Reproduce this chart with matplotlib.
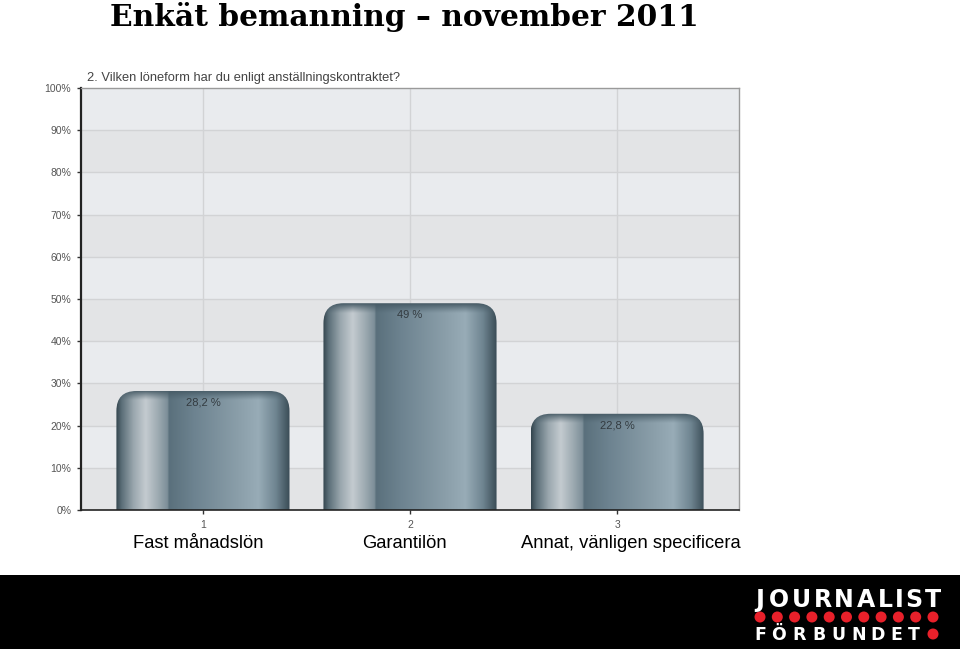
import numpy as np
import matplotlib
matplotlib.use("Agg")
import matplotlib.pyplot as plt
from matplotlib.path import Path
from matplotlib.patches import PathPatch, Circle, Rectangle
from matplotlib.colors import to_rgb
import matplotlib.transforms as mtransforms

# data
positions = [1, 2, 3]
values = [28.2, 49.0, 22.8]
value_labels = ["28,2 %", "49 %", "22,8 %"]
tick_labels = ["1", "2", "3"]
categories = ["Fast månadslön", "Garantilön", "Annat, vänligen specificera"]
y_ticks = [0, 10, 20, 30, 40, 50, 60, 70, 80, 90, 100]
y_tick_labels = ["0%", "10%", "20%", "30%", "40%", "50%", "60%", "70%", "80%", "90%", "100%"]

title = "Enkät bemanning – november 2011"
question = "2. Vilken löneform har du enligt anställningskontraktet?"

fig = plt.figure(figsize=(9.6, 6.49), dpi=100)
ax = fig.add_axes([81 / 960, 1 - 510 / 649, 658 / 960, 422 / 649])
ax.set_xlim(0.411, 3.589)
ax.set_ylim(0, 100)

# striped background
band_cols = ["#e3e4e6", "#e9ebee"]
for i in range(len(y_ticks) - 1):
    ax.axhspan(y_ticks[i], y_ticks[i + 1], color=band_cols[i % 2], lw=0, zorder=0)
for t in y_ticks[1:-1]:
    ax.axhline(t, color="#d2d3d5", lw=1, zorder=0.5)
for p in positions:
    ax.axvline(p, color="#d2d3d5", lw=1, zorder=0.5)

# horizontal colour profile of the bars
stops = [0.0, 0.03, 0.10, 0.17, 0.24, 0.295, 0.305, 0.45, 0.70, 0.82, 0.92, 1.0]
cols = ["#34454e", "#5a6d77", "#9aa7ae", "#c4cbd0", "#9eabb2", "#7d8f99",
        "#5a707c", "#6d8390", "#8a9ea9", "#98acb7", "#6f8591", "#3a4c56"]
cols = np.array([to_rgb(c) for c in cols])
nx = 300
fx = np.linspace(0, 1, nx)
profile = np.stack([np.interp(fx, stops, cols[:, k]) for k in range(3)], axis=1)
cap = np.array(to_rgb("#465a65"))

width = 0.836
px_per_y = 422 / 100
px_per_x = 207
rx = 20 / px_per_x
ry = 20 / px_per_y
band = 10 / px_per_y

for p, v, lab in zip(positions, values, value_labels):
    x0, x1 = p - width / 2, p + width / 2
    ny = 300
    yy = np.linspace(v, 0, ny)
    d = (v - yy) / band
    w = np.clip(1 - d, 0, 1) ** 1.2
    img = profile[None, :, :] * (1 - w[:, None, None]) + cap[None, None, :] * w[:, None, None]
    im = ax.imshow(img, extent=[x0, x1, 0, v], aspect="auto", zorder=2,
                   interpolation="bilinear")
    verts = [(x0, 0), (x0, v - ry), (x0, v), (x0 + rx, v), (x1 - rx, v),
             (x1, v), (x1, v - ry), (x1, 0), (x0, 0)]
    codes = [Path.MOVETO, Path.LINETO, Path.CURVE3, Path.CURVE3, Path.LINETO,
             Path.CURVE3, Path.CURVE3, Path.LINETO, Path.CLOSEPOLY]
    clip = PathPatch(Path(verts, codes), transform=ax.transData, facecolor="none",
                     edgecolor="none")
    ax.add_patch(clip)
    im.set_clip_path(clip)
    ax.text(p, v - 12 / px_per_y, lab, ha="center", va="center", fontsize=8,
            color="#333b40", family="Liberation Sans", zorder=3)

ax.set_yticks(y_ticks)
ax.set_yticklabels(y_tick_labels, fontsize=7.5, color="#555555", family="Liberation Sans")
ax.set_xticks(positions)
ax.set_xticklabels(tick_labels, fontsize=7.5, color="#555555", family="Liberation Sans")
ax.tick_params(axis="both", length=3, width=1, color="#333333", pad=4)
ax.spines["left"].set_color("#222222")
ax.spines["left"].set_linewidth(1.6)
ax.spines["bottom"].set_color("#222222")
ax.spines["bottom"].set_linewidth(1.2)
for s in ["top", "right"]:
    ax.spines[s].set_color("#9a9a9a")
    ax.spines[s].set_linewidth(1)

# category names sit a little off the tick centres in the original
label_shift = [-5, -6, 14]
for p, c, dx in zip(positions, categories, label_shift):
    trans = mtransforms.blended_transform_factory(
        ax.transData + mtransforms.Affine2D().translate(dx, 0), ax.transAxes)
    ax.text(p, -0.08, c, transform=trans, ha="center", va="center",
            fontsize=13.2, family="Liberation Sans", color="black")

fig.text(87 / 960, 1 - 81 / 649, question, fontsize=9.3, color="#444444",
         family="Liberation Sans", va="baseline", ha="left")
fig.text(110 / 960, 1 - 26 / 649, title, fontsize=21.4, fontweight="bold",
         family="DejaVu Serif", va="baseline", ha="left")

# footer with logo
fig.add_artist(Rectangle((0, 0), 1, 74 / 649, transform=fig.transFigure,
                         facecolor="black", edgecolor="none"))
inch = fig.dpi_scale_trans


def spaced(word, widths, left, right, base, size):
    scale = (right - left) / sum(widths)
    x = left
    for ch, w in zip(word, widths):
        fig.text((x + w * scale / 2) / 100, (649 - base) / 100, ch, transform=inch,
                 ha="center", va="baseline", fontsize=size, fontweight="bold",
                 color="white", family="DejaVu Sans")
        x += w * scale


spaced("JOURNALIST", [.60, .85, .80, .80, .82, .80, .68, .37, .72, .70],
       752, 942, 607, 17)
spaced("FÖRBUNDET", [.65, .85, .80, .80, .80, .80, .80, .70, .68],
       752, 922, 640, 12.5)
for i in range(11):
    fig.add_artist(Circle(((760 + i * 17.3) / 100, (649 - 617) / 100), 0.055,
                          transform=inch, facecolor="#e8202a", edgecolor="none"))
fig.add_artist(Circle((933 / 100, (649 - 634) / 100), 0.055, transform=inch,
                      facecolor="#e8202a", edgecolor="none"))

fig.savefig("out.png", dpi=100)
